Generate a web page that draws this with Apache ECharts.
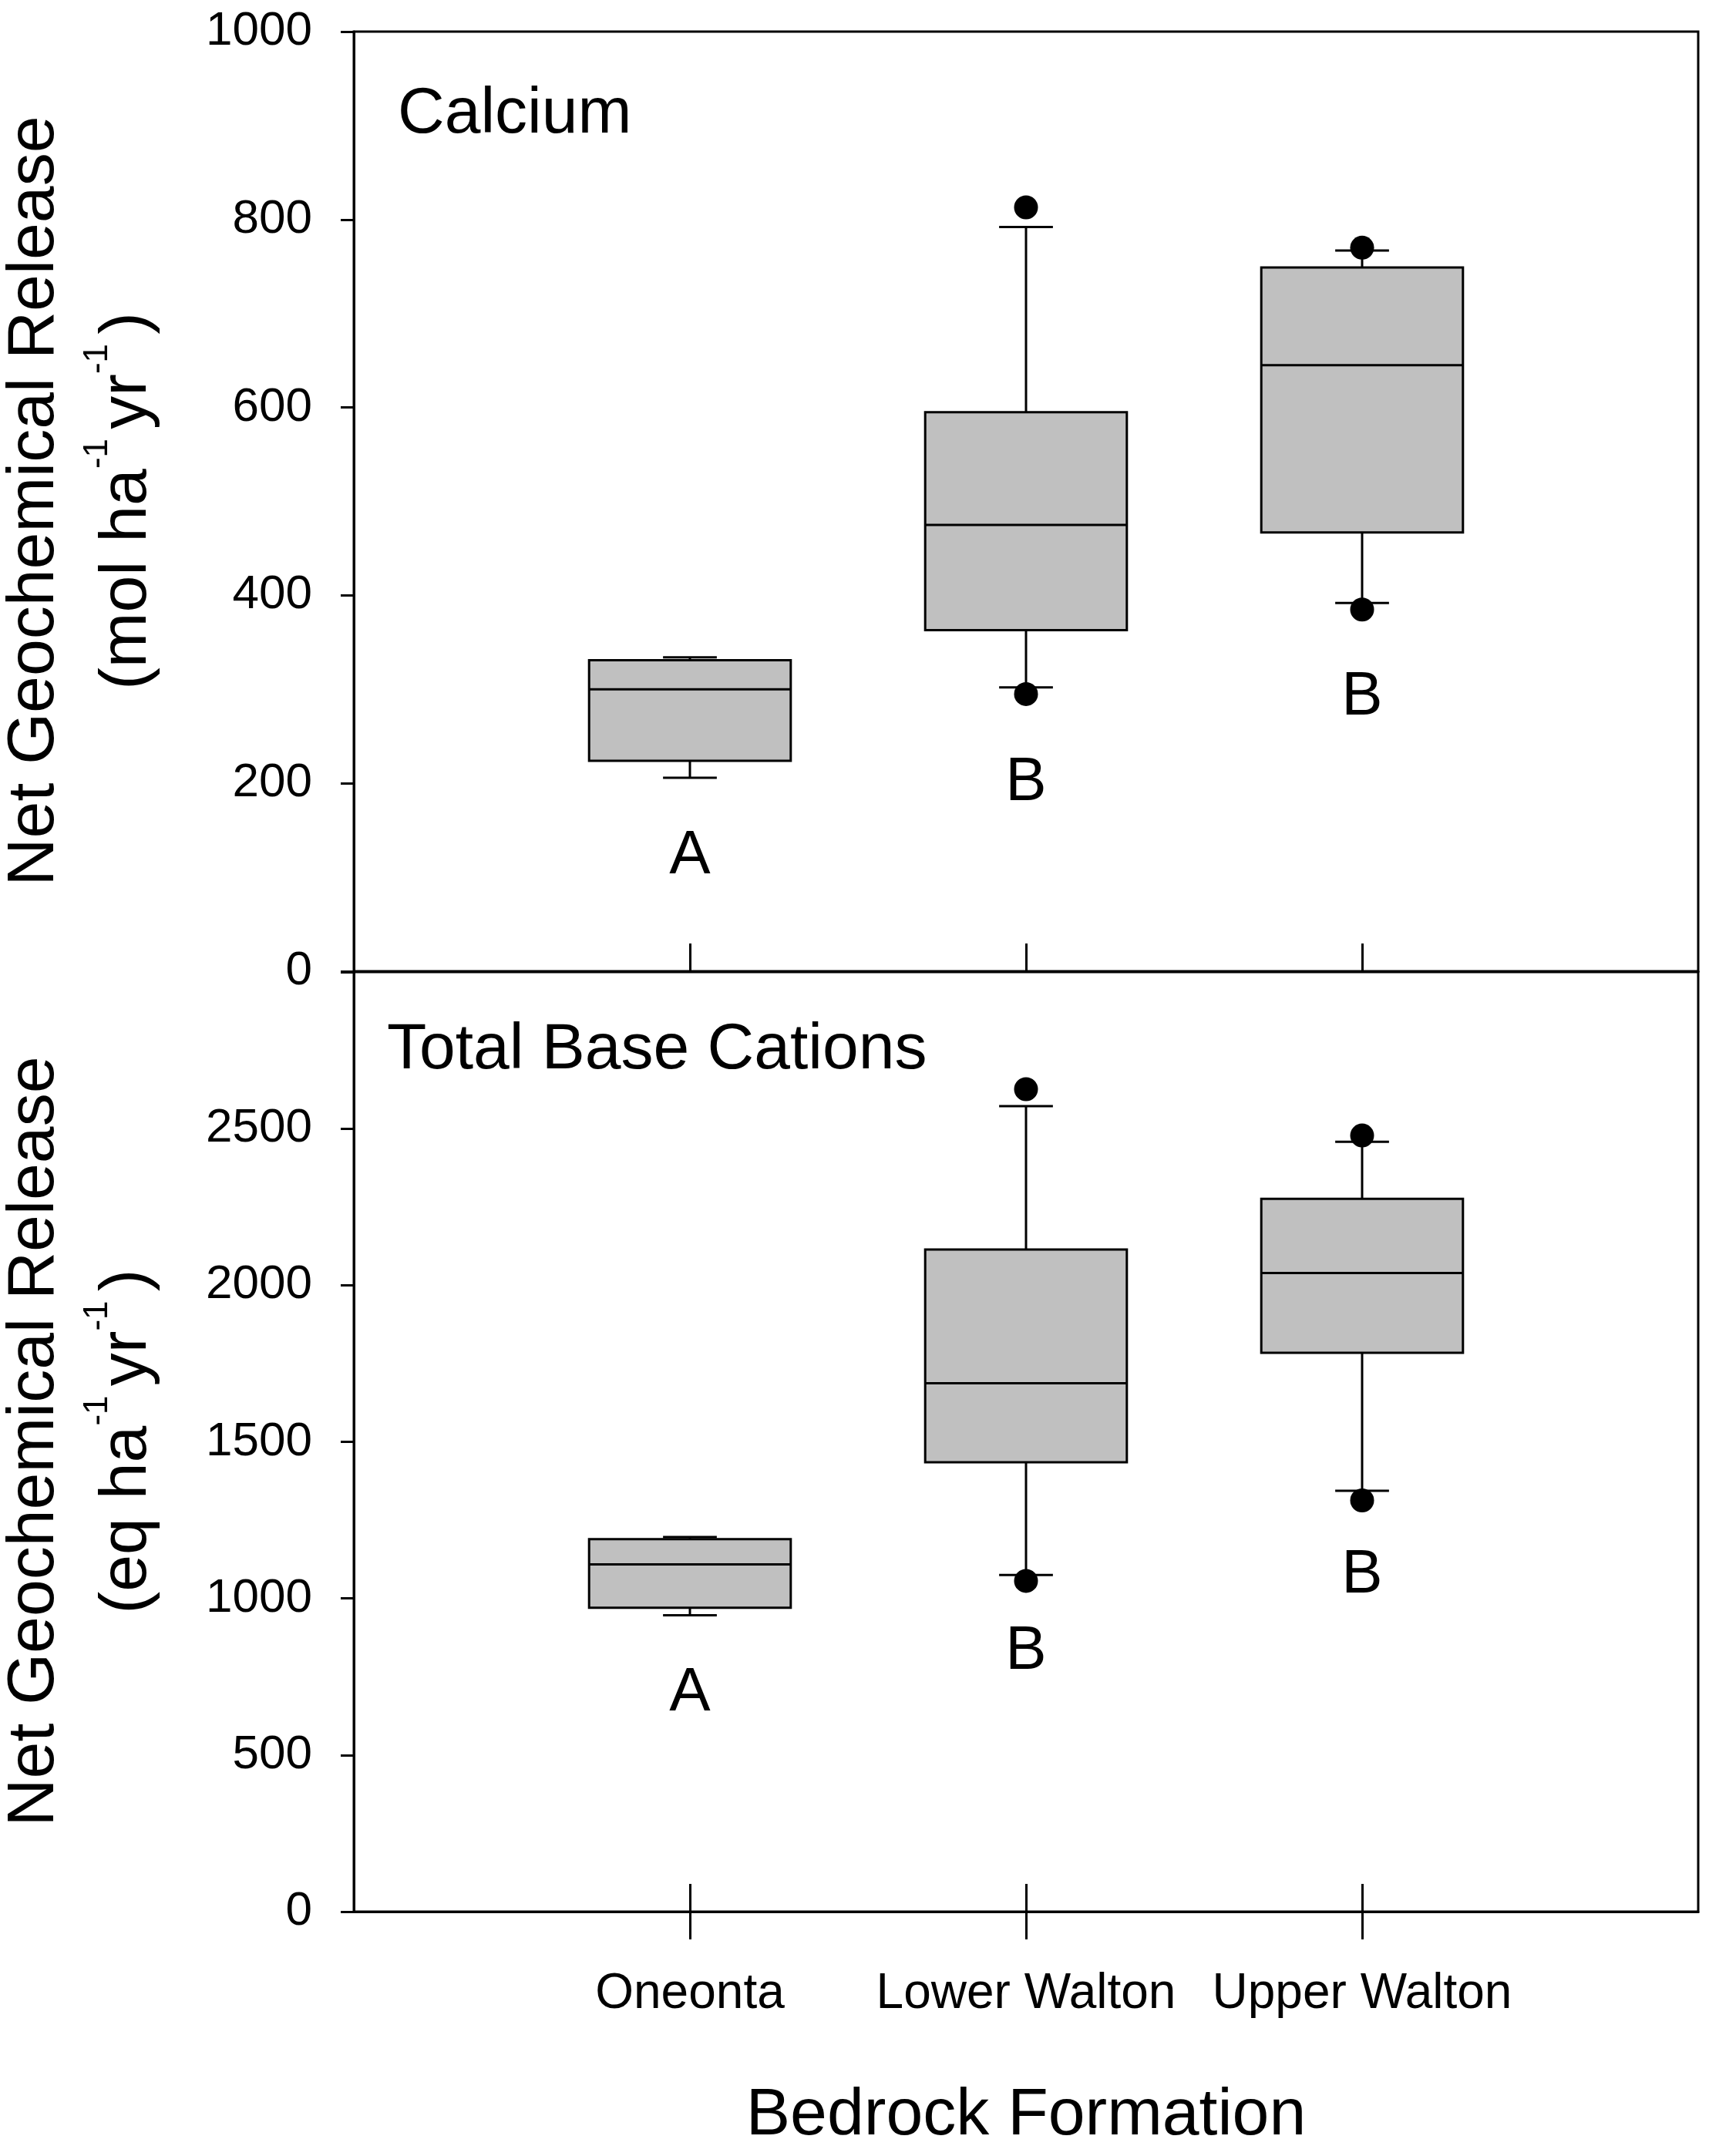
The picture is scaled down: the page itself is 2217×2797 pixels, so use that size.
<!DOCTYPE html>
<html>
<head>
<meta charset="utf-8">
<script src="https://cdn.jsdelivr.net/npm/echarts@6/dist/echarts.min.js"></script>
<style>
  html, body { margin: 0; padding: 0; background: #fff; }
  #main { width: 2217px; height: 2797px; }
</style>
</head>
<body>
<div id="main"></div>
<script>
// bedrock formations, placed at x = 1, 2, 3
var categories = ['Oneonta', 'Lower Walton', 'Upper Walton'];
var letters = ['A', 'B', 'B'];

// calcium: [lower whisker, q1, median, q3, upper whisker]
var caOneonta = [206, 224, 300, 331, 334];
var caLower = [302, 363, 475, 595, 792];
var caUpper = [392, 467, 645, 749, 767];
var caOutliers = [[2, 813], [2, 295], [3, 770], [3, 385]];
var caLetterY = [122, 200, 291];
var caTicks = [0, 200, 400, 600, 800, 1000];

// total base cations
var tbOneonta = [946, 970, 1109, 1189, 1196];
var tbLower = [1075, 1435, 1687, 2114, 2572];
var tbUpper = [1344, 1784, 2039, 2276, 2458];
var tbOutliers = [[2, 2626], [2, 1056], [3, 2478], [3, 1313]];
var tbLetterY = [696, 829, 1073];
var tbTicks = [0, 500, 1000, 1500, 2000, 2500];

var FONT = '"Liberation Sans", Arial, sans-serif';
var BOX_W = 0.6;
var CAP_W = 0.16;

function boxRows(list) {
  return list.map(function (b, i) { return [i + 1].concat(b); });
}

function renderBox(params, api) {
  var x = api.value(0);
  var lo = api.coord([x, api.value(1)]);
  var q1 = api.coord([x, api.value(2)]);
  var med = api.coord([x, api.value(3)]);
  var q3 = api.coord([x, api.value(4)]);
  var hi = api.coord([x, api.value(5)]);
  var bw = api.size([BOX_W, 0])[0] / 2;
  var cw = api.size([CAP_W, 0])[0] / 2;
  var ln = { stroke: '#000', lineWidth: 3 };
  return {
    type: 'group',
    children: [
      { type: 'line', shape: { x1: hi[0], y1: hi[1], x2: q3[0], y2: q3[1] }, style: ln },
      { type: 'line', shape: { x1: lo[0], y1: lo[1], x2: q1[0], y2: q1[1] }, style: ln },
      { type: 'line', shape: { x1: hi[0] - cw, y1: hi[1], x2: hi[0] + cw, y2: hi[1] }, style: ln },
      { type: 'line', shape: { x1: lo[0] - cw, y1: lo[1], x2: lo[0] + cw, y2: lo[1] }, style: ln },
      { type: 'rect', shape: { x: q3[0] - bw, y: q3[1], width: 2 * bw, height: q1[1] - q3[1] },
        style: { fill: '#c0c0c0', stroke: '#000', lineWidth: 3 } },
      { type: 'line', shape: { x1: med[0] - bw, y1: med[1], x2: med[0] + bw, y2: med[1] }, style: ln }
    ]
  };
}

function letterRows(ys) {
  return ys.map(function (y, i) { return { value: [i + 1, y], name: letters[i] }; });
}

function xAxisBase(grid, opts) {
  var ax = {
    type: 'value', gridIndex: grid, min: 0, max: 4, interval: 1,
    splitLine: { show: false },
    axisLine: { onZero: false, lineStyle: { color: '#000', width: 3 } },
    axisTick: { customValues: [1, 2, 3], inside: true, length: 36, lineStyle: { color: '#000', width: 3 } },
    axisLabel: { show: false }
  };
  return Object.assign(ax, opts || {});
}

function yAxisBase(grid, max, interval, ticks) {
  return {
    type: 'value', gridIndex: grid, min: 0, max: max, interval: interval,
    splitLine: { show: false },
    axisLine: { onZero: false, lineStyle: { color: '#000', width: 3 } },
    axisTick: { length: 17, lineStyle: { color: '#000', width: 3 } },
    axisLabel: {
      margin: 54, color: '#000', fontSize: 62, fontFamily: FONT,
      formatter: function (v) { return ticks.indexOf(v) >= 0 ? String(v) : ''; }
    }
  };
}

var titleRich = {
  a: { fontSize: 86, fontFamily: FONT, color: '#000', lineHeight: 120 },
  b: { fontSize: 86, fontFamily: FONT, color: '#000', lineHeight: 120 },
  s: { fontSize: 44, fontFamily: FONT, color: '#000', lineHeight: 6, verticalAlign: 'top' }
};

function yTitle(unit, cy) {
  return {
    type: 'text', x: 105, y: cy, rotation: Math.PI / 2,
    style: {
      text: '{a|Net Geochemical Release}\n{b|(' + unit + ' ha}{s|-1 }{b|yr}{s|-1 }{b|)}',
      rich: titleRich, align: 'center', verticalAlign: 'middle'
    }
  };
}

var letterLabel = { show: true, position: 'inside', formatter: '{b}', color: '#000', fontSize: 80, fontFamily: FONT };

var chart = echarts.init(document.getElementById('main'), null, { renderer: 'canvas' });

var option = {
  backgroundColor: '#fff',
  animation: false,
  grid: [
    { left: 459, top: 41, width: 1744, height: 1219, show: true, borderColor: '#000', borderWidth: 3 },
    { left: 459, top: 1261, width: 1744, height: 1219, show: true, borderColor: '#000', borderWidth: 3 }
  ],
  xAxis: [
    xAxisBase(0),
    xAxisBase(1, {
      axisLabel: {
        show: true, customValues: [1, 2, 3], margin: 75, color: '#000', fontSize: 64, fontFamily: FONT,
        formatter: function (v) { return categories[v - 1] || ''; }
      },
      name: 'Bedrock Formation', nameLocation: 'middle', nameGap: 222,
      nameTextStyle: { fontSize: 86, fontFamily: FONT, color: '#000', verticalAlign: 'top' }
    }),
    xAxisBase(1, {
      position: 'bottom',
      axisLine: { show: false },
      axisTick: { customValues: [1, 2, 3], inside: false, length: 36, lineStyle: { color: '#000', width: 3 } }
    })
  ],
  yAxis: [
    yAxisBase(0, 1000, 200, caTicks),
    yAxisBase(1, 3000, 500, tbTicks)
  ],
  series: [
    { type: 'custom', xAxisIndex: 0, yAxisIndex: 0, renderItem: renderBox,
      encode: { x: 0, y: [1, 2, 3, 4, 5] }, data: boxRows([caOneonta, caLower, caUpper]) },
    { type: 'scatter', xAxisIndex: 0, yAxisIndex: 0, symbolSize: 31,
      itemStyle: { color: '#000', opacity: 1 }, data: caOutliers },
    { type: 'scatter', xAxisIndex: 0, yAxisIndex: 0, symbolSize: 1,
      itemStyle: { color: 'rgba(0,0,0,0)', opacity: 1 }, data: letterRows(caLetterY), label: letterLabel },
    { type: 'custom', xAxisIndex: 1, yAxisIndex: 1, renderItem: renderBox,
      encode: { x: 0, y: [1, 2, 3, 4, 5] }, data: boxRows([tbOneonta, tbLower, tbUpper]) },
    { type: 'scatter', xAxisIndex: 1, yAxisIndex: 1, symbolSize: 31,
      itemStyle: { color: '#000', opacity: 1 }, data: tbOutliers },
    { type: 'scatter', xAxisIndex: 1, yAxisIndex: 1, symbolSize: 1,
      itemStyle: { color: 'rgba(0,0,0,0)', opacity: 1 }, data: letterRows(tbLetterY), label: letterLabel }
  ],
  graphic: [
    { type: 'text', x: 516, y: 149,
      style: { text: 'Calcium', fontSize: 84, fontFamily: FONT, fill: '#000', verticalAlign: 'middle' } },
    { type: 'text', x: 502, y: 1363,
      style: { text: 'Total Base Cations', fontSize: 84, fontFamily: FONT, fill: '#000', verticalAlign: 'middle' } },
    yTitle('mol', 650),
    yTitle('eq', 1870)
  ]
};

chart.setOption(option);
</script>
</body>
</html>
